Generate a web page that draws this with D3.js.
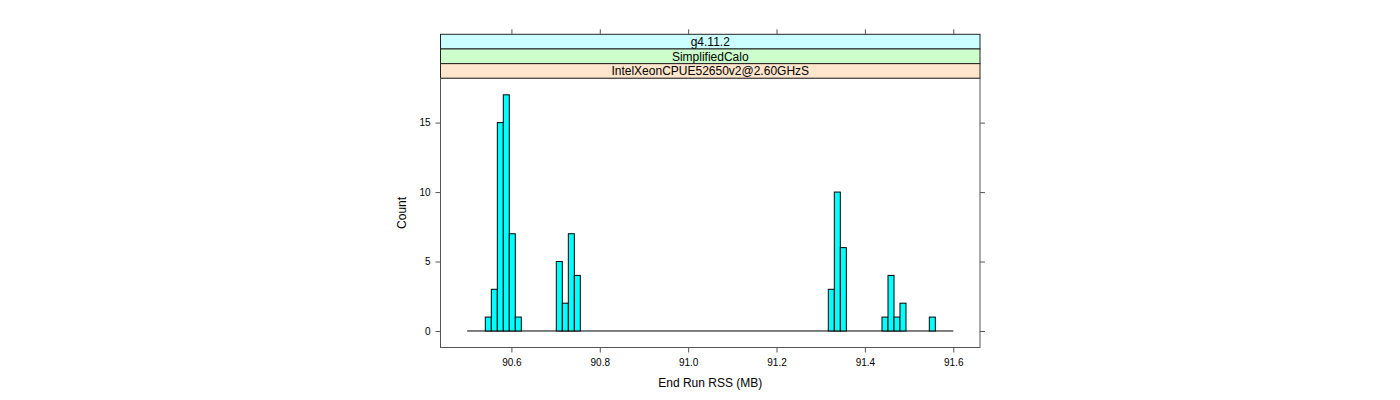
<!DOCTYPE html>
<html>
<head>
<meta charset="utf-8">
<script src="https://cdn.jsdelivr.net/npm/d3@7/dist/d3.min.js"></script>
<style>
  html, body { margin: 0; padding: 0; background: #fff; }
  svg { display: block; font-family: "Liberation Sans", Arial, Helvetica, sans-serif; }
</style>
</head>
<body>
<svg id="chart" width="1400" height="400"></svg>
<script>
// ---- data ----
const stripLabels = ["g4.11.2", "SimplifiedCalo", "IntelXeonCPUE52650v2@2.60GHzS"];
const stripColors = ["#ccffff", "#ccffcc", "#ffe5cc"];
const binStarts = [90.5409, 90.5545, 90.5681, 90.5816, 90.5952, 90.6088,
                   90.7016, 90.7152, 90.7288, 90.7424,
                   91.3172, 91.3308, 91.3444,
                   91.4387, 91.4523, 91.4659, 91.4794,
                   91.5458];
const counts = [1, 3, 15, 17, 7, 1,
                5, 2, 7, 4,
                3, 10, 6,
                1, 4, 1, 2,
                1];
const binWidth = 0.01358;
const breakRange = [90.5, 91.6];
const xTicks = [90.6, 90.8, 91.0, 91.2, 91.4, 91.6];
const yTicks = [0, 5, 10, 15];
const xLabel = "End Run RSS (MB)";
const yLabel = "Count";

// ---- layout ----
const svg = d3.select("#chart");
const P = { left: 440.5, right: 980, top: 78.3, bottom: 347.5 };
const stripTop = 34.3, stripH = (P.top - stripTop) / 3;

const x = d3.scaleLinear().domain([90.4395, 91.6605]).range([P.left, P.right]);
const y = d3.scaleLinear().domain([-1.19, 18.19]).range([P.bottom, P.top]);

// strips
stripLabels.forEach((lab, i) => {
  const y0 = stripTop + i * stripH;
  svg.append("rect").attr("x", P.left).attr("y", y0).attr("width", P.right - P.left).attr("height", stripH)
    .attr("fill", stripColors[i]).attr("stroke", "#222").attr("stroke-width", 1);
  svg.append("text").attr("x", (P.left + P.right) / 2).attr("y", y0 + stripH / 2 + 4.3)
    .attr("text-anchor", "middle").attr("font-size", 12).attr("fill", "#000").text(lab);
});

// panel border
svg.append("rect").attr("x", P.left).attr("y", P.top).attr("width", P.right - P.left).attr("height", P.bottom - P.top)
  .attr("fill", "none").attr("stroke", "#555").attr("stroke-width", 1);

// axes
const fmtX = d3.format(".1f");
const bottomAxis = d3.axisBottom(x).tickValues(xTicks).tickFormat(fmtX).tickSize(5).tickPadding(6);
const gb = svg.append("g").attr("transform", `translate(0,${P.bottom})`).call(bottomAxis);
const topAxis = d3.axisTop(x).tickValues(xTicks).tickFormat("").tickSize(5);
const gt = svg.append("g").attr("transform", `translate(0,${stripTop})`).call(topAxis);
const leftAxis = d3.axisLeft(y).tickValues(yTicks).tickFormat(d3.format("d")).tickSize(5).tickPadding(5);
const gl = svg.append("g").attr("transform", `translate(${P.left},0)`).call(leftAxis);
const rightAxis = d3.axisRight(y).tickValues(yTicks).tickFormat("").tickSize(5);
const gr = svg.append("g").attr("transform", `translate(${P.right},0)`).call(rightAxis);
[gb, gt, gl, gr].forEach(g => {
  g.select(".domain").remove();
  g.selectAll(".tick line").attr("stroke", "#555");
  g.selectAll(".tick text").attr("font-size", 10).attr("fill", "#000")
    .style("font-family", '"Liberation Sans", Arial, sans-serif');
});

// baseline
svg.append("line").attr("x1", x(breakRange[0])).attr("x2", x(breakRange[1]))
  .attr("y1", y(0)).attr("y2", y(0)).attr("stroke", "#000").attr("stroke-width", 1);

// bars
svg.append("g").selectAll("rect").data(binStarts).join("rect")
  .attr("x", (d) => x(d))
  .attr("width", (d) => x(d + binWidth) - x(d))
  .attr("y", (d, i) => y(counts[i]))
  .attr("height", (d, i) => y(0) - y(counts[i]))
  .attr("fill", "#00ffff").attr("stroke", "#000").attr("stroke-width", 1);

// axis labels
svg.append("text").attr("x", (P.left + P.right) / 2).attr("y", 387)
  .attr("text-anchor", "middle").attr("font-size", 12).text(xLabel);
svg.append("text").attr("transform", `translate(406,${(P.top + P.bottom) / 2}) rotate(-90)`)
  .attr("text-anchor", "middle").attr("font-size", 12).text(yLabel);
</script>
</body>
</html>
